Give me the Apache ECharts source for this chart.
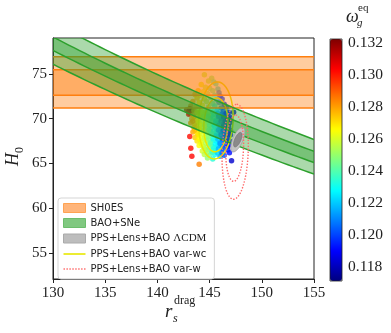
<!DOCTYPE html>
<html>
<head>
<meta charset="utf-8">
<script src="https://cdn.jsdelivr.net/npm/echarts@6/dist/echarts.min.js"></script>
<style>
html, body { margin: 0; padding: 0; background: #fff; }
#chart { width: 391px; height: 333px; }
</style>
</head>
<body>
<div id="chart"></div>
<script>
// axes
var xRange = [130, 155];
var yRange = [52.1, 79];
var yTicks = [55, 60, 65, 70, 75];
var cbRange = [0.11715, 0.13225];
var cbTicks = [0.118, 0.120, 0.122, 0.124, 0.126, 0.128, 0.130, 0.132];

// SH0ES H0 bands [low, high]: 2 sigma, 1 sigma
var shoesBands = [[71.2, 76.9], [72.6, 75.45]];
// BAO+SNe bands on H0 * rs [low, high]: 2 sigma, 1 sigma
var baoBands = [[9890, 10490], [10090, 10285]];

// contours: [rs, H0 centre, half axis 1 (rs, H0), half axis 2 (rs, H0)]
var lcdmContours = [[147.7, 67.65, 0.5, 1.35, 0.45, -0.2], [147.7, 67.65, 0.3, 0.8, 0.27, -0.12]];
var varwcContours = [[145.6, 69.8, 0.15, 4.3, 1.65, 0], [145.6, 69.3, 0.1, 3.0, 1.15, 0]];
var varwContours = [[147.45, 66.3, 0.15, 5.3, 1.25, 0], [147.4, 66.7, 0.1, 3.7, 0.85, 0]];

// chain samples: [rs, H0, omega]
var samples = [
  [144.5,74.9,0.1256],[145.2,74.5,0.1248],[144.9,74.2,0.1254],[145.4,74.1,0.124],[144.2,73.8,0.1264],[145.6,73.9,0.1232],
  [144.6,73.5,0.1258],[145.0,73.4,0.1248],[145.8,73.3,0.1224],[143.9,73.1,0.1272],[144.4,73.0,0.1262],[145.3,73.1,0.1242],[145.9,72.9,0.1208],
  [143.6,72.7,0.1276],[144.1,72.6,0.1266],[144.8,72.8,0.1252],[145.5,72.6,0.1232],[146.0,72.5,0.12],
  [143.8,72.3,0.1272],[144.5,72.2,0.126],[145.1,72.4,0.1246],[145.7,72.1,0.122],[146.2,72.2,0.1198],
  [143.4,71.9,0.128],[144.0,71.8,0.1268],[144.7,71.9,0.1254],[145.3,71.7,0.1238],[145.9,71.8,0.1212],[146.4,71.6,0.1194],
  [143.2,71.4,0.1286],[143.7,71.3,0.1274],[144.3,71.5,0.1262],[144.9,71.3,0.1248],[145.5,71.4,0.123],[146.1,71.2,0.1208],[146.6,71.3,0.1192],
  [142.8,71.0,0.1312],[143.0,70.8,0.1308],[143.1,71.1,0.1315],[143.3,70.9,0.132],[143.1,70.6,0.131],[143.5,70.9,0.128],[144.1,71.0,0.1266],[144.6,70.8,0.1256],
  [145.2,71.0,0.124],[145.7,70.9,0.1222],[146.3,70.8,0.1202],[146.8,70.7,0.119],[147.3,70.7,0.118],
  [143.0,70.5,0.1305],[143.4,70.4,0.1282],[143.9,70.6,0.127],[144.4,70.5,0.126],[144.9,70.4,0.1248],[145.4,70.5,0.1234],[145.9,70.3,0.1216],[146.4,70.4,0.12],[146.9,70.2,0.1188],
  [143.3,70.0,0.1282],[143.7,69.9,0.1274],[144.2,70.1,0.1264],[144.6,69.9,0.1254],[145.1,70.0,0.1242],[145.6,69.8,0.1226],[146.1,70.0,0.121],[146.6,69.8,0.1198],[147.0,69.9,0.1188],
  [143.2,69.5,0.1282],[143.6,69.4,0.1274],[144.0,69.6,0.1266],[144.5,69.4,0.1256],[144.9,69.5,0.1246],[145.4,69.3,0.1232],[145.8,69.5,0.1218],[146.3,69.4,0.1206],[146.8,69.3,0.1193],
  [143.5,69.0,0.1278],[143.9,68.9,0.127],[144.3,69.1,0.1262],[144.8,68.9,0.125],[145.2,69.0,0.1238],[145.7,68.8,0.1222],[146.1,69.0,0.121],[146.6,68.9,0.1198],[147.0,68.7,0.119],
  [143.4,68.5,0.128],[143.8,68.4,0.127],[144.2,68.6,0.1264],[144.7,68.4,0.1252],[145.1,68.5,0.124],[145.5,68.3,0.123],[146.0,68.5,0.1214],[146.4,68.3,0.1202],[146.9,68.4,0.1191],
  [143.1,68.0,0.1302],[143.6,67.9,0.1274],[144.0,68.1,0.1266],[144.5,67.9,0.1256],[144.9,68.0,0.1246],[145.3,67.8,0.1234],[145.8,68.0,0.1218],[146.2,67.8,0.1206],[146.7,67.9,0.1196],
  [143.8,67.5,0.127],[144.2,67.4,0.1262],[144.7,67.6,0.1252],[145.1,67.4,0.1241],[145.6,67.5,0.1226],[146.0,67.3,0.1214],[146.5,67.4,0.1201],[146.9,67.5,0.1191],
  [144.0,67.0,0.1266],[144.4,66.9,0.1258],[144.9,67.1,0.1248],[145.3,66.9,0.1236],[145.8,67.0,0.1222],[146.2,66.8,0.1208],[146.7,66.9,0.1198],
  [143.2,66.7,0.1302],[144.3,66.4,0.126],[144.7,66.5,0.1252],[145.2,66.4,0.1239],[145.6,66.5,0.1226],[146.1,66.3,0.121],[146.9,66.2,0.1192],
  [144.5,66.0,0.1256],[145.0,65.9,0.1244],[145.5,66.0,0.123],[146.0,65.8,0.1214],[146.4,65.9,0.1202],
  [143.3,65.8,0.1303],[144.8,65.6,0.125],[145.3,65.5,0.1234],[147.1,65.3,0.1183],[144.0,64.9,0.1285],
  [143.8,70.7,0.1272],[144.3,70.7,0.1262],[144.8,70.65,0.125],[145.3,70.7,0.1236],[145.8,70.6,0.1218],[146.2,70.55,0.1206],[146.6,70.6,0.1196],
  [143.5,70.2,0.1278],[144.0,70.25,0.1268],[144.4,70.2,0.1258],[144.9,70.2,0.1246],[145.35,70.15,0.1233],[145.85,70.2,0.1215],[146.35,70.1,0.1201],[146.8,70.05,0.1191],
  [143.4,69.7,0.1281],[143.9,69.75,0.127],[144.3,69.7,0.1261],[144.75,69.75,0.125],[145.2,69.7,0.1238],[145.6,69.65,0.1225],[146.1,69.7,0.121],[146.5,69.65,0.1198],[147.0,69.6,0.1189],
  [143.7,69.2,0.1274],[144.1,69.25,0.1265],[144.55,69.2,0.1255],[145.0,69.25,0.1243],[145.45,69.2,0.123],[145.9,69.25,0.1215],[146.35,69.2,0.1202],[146.8,69.15,0.1193],
  [143.6,68.7,0.1276],[144.05,68.75,0.1266],[144.5,68.7,0.1256],[144.95,68.75,0.1244],[145.4,68.65,0.1232],[145.85,68.7,0.1217],[146.3,68.65,0.1204],[146.75,68.7,0.1195],
  [143.9,68.2,0.127],[144.35,68.25,0.126],[144.8,68.2,0.125],[145.2,68.25,0.1238],[145.65,68.15,0.1224],[146.1,68.2,0.121],[146.55,68.1,0.1198],[147.0,68.2,0.119],
  [144.0,67.7,0.1267],[144.45,67.75,0.1258],[144.9,67.7,0.1247],[145.35,67.65,0.1233],[145.8,67.7,0.1219],[146.25,67.6,0.1206],[146.7,67.7,0.1196],
  [144.2,67.2,0.1263],[144.65,67.25,0.1254],[145.1,67.2,0.1241],[145.55,67.15,0.1228],[146.0,67.2,0.1213],[146.45,67.1,0.1202],[146.9,67.05,0.1191],
  [144.5,66.7,0.1257],[144.95,66.75,0.1247],[145.4,66.7,0.1233],[145.85,66.65,0.1218],[146.3,66.6,0.1204],[146.75,66.5,0.1195],
  [144.75,66.2,0.1252],[145.25,66.25,0.1238],[145.75,66.2,0.1222],[146.2,66.1,0.1208]
];

var jet = ['#00007f', '#0000ff', '#0080ff', '#00ffff', '#80ff80', '#ffff00', '#ff8000', '#ff0000', '#7f0000'];

function ellipsePoints(api) {
  var pts = [];
  for (var k = 0; k < 90; k++) {
    var t = k / 90 * 2 * Math.PI;
    pts.push(api.coord([
      api.value(0) + api.value(2) * Math.cos(t) + api.value(4) * Math.sin(t),
      api.value(1) + api.value(3) * Math.cos(t) + api.value(5) * Math.sin(t)
    ]));
  }
  return pts;
}

function shoesItem(params, api) {
  var lo = api.value(0), hi = api.value(1);
  var a = api.coord([xRange[0], lo]), b = api.coord([xRange[1], lo]);
  var c = api.coord([xRange[1], hi]), d = api.coord([xRange[0], hi]);
  return {
    type: 'group',
    children: [
      { type: 'polygon', shape: { points: [a, b, c, d] }, style: { fill: 'rgba(255,127,14,0.4)' } },
      { type: 'line', shape: { x1: a[0], y1: a[1], x2: b[0], y2: b[1] }, style: { stroke: '#ff7f0e', lineWidth: 1.5 } },
      { type: 'line', shape: { x1: d[0], y1: d[1], x2: c[0], y2: c[1] }, style: { stroke: '#ff7f0e', lineWidth: 1.5 } }
    ]
  };
}

function baoItem(params, api) {
  var lo = api.value(0), hi = api.value(1);
  var upper = [], lower = [];
  for (var r = xRange[0]; r <= xRange[1] + 1e-9; r += 0.5) {
    upper.push(api.coord([r, hi / r]));
    lower.push(api.coord([r, lo / r]));
  }
  return {
    type: 'group',
    children: [
      { type: 'polygon', shape: { points: upper.concat(lower.slice().reverse()) }, style: { fill: 'rgba(44,160,44,0.4)' } },
      { type: 'polyline', shape: { points: upper }, style: { stroke: '#2ca02c', lineWidth: 1.5, fill: null } },
      { type: 'polyline', shape: { points: lower }, style: { stroke: '#2ca02c', lineWidth: 1.5, fill: null } }
    ]
  };
}

var chart = echarts.init(document.getElementById('chart'));
var serif = 'Liberation Serif';

chart.setOption({
  animation: false,
  backgroundColor: '#fff',
  grid: [
    { left: 53, top: 38, width: 261, height: 241, show: true, borderColor: '#222', borderWidth: 1, backgroundColor: 'transparent' },
    { left: 330, top: 39, width: 12, height: 242, show: true, borderColor: '#222', borderWidth: 0.8, backgroundColor: 'transparent', z: 10 }
  ],
  xAxis: [
    {
      gridIndex: 0, type: 'value', min: xRange[0], max: xRange[1], interval: 5,
      axisLine: { onZero: false, lineStyle: { color: '#222', width: 1 } },
      axisTick: { length: 4, lineStyle: { color: '#222' } },
      axisLabel: { fontFamily: serif, fontSize: 15, color: '#222', margin: 7 },
      splitLine: { show: false }
    },
    { gridIndex: 1, type: 'value', min: 0, max: 1, show: false }
  ],
  yAxis: [
    {
      gridIndex: 0, type: 'value', min: yRange[0], max: yRange[1],
      axisLine: { onZero: false, lineStyle: { color: '#222', width: 1 } },
      axisTick: { length: 4, lineStyle: { color: '#222' }, customValues: yTicks },
      axisLabel: { fontFamily: serif, fontSize: 15, color: '#222', margin: 6, customValues: yTicks },
      splitLine: { show: false }
    },
    {
      gridIndex: 1, type: 'value', position: 'right', min: cbRange[0], max: cbRange[1],
      axisLine: { show: false },
      axisTick: { length: 4, lineStyle: { color: '#222' }, customValues: cbTicks },
      axisLabel: {
        fontFamily: serif, fontSize: 15.5, color: '#222', margin: 6, customValues: cbTicks,
        formatter: function (v) { return v.toFixed(3); }
      },
      splitLine: { show: false }
    }
  ],
  visualMap: {
    type: 'continuous', seriesIndex: 0, dimension: 2,
    min: cbRange[0], max: cbRange[1],
    orient: 'vertical', left: 330, top: 39, itemWidth: 12, itemHeight: 242,
    padding: 0, calculable: false, hoverLink: false, text: null, showLabel: false,
    inRange: { color: jet }
  },
  legend: {
    left: 58, top: 198, orient: 'vertical', itemWidth: 22, itemHeight: 9, itemGap: 5,
    selectedMode: false,
    backgroundColor: 'rgba(255,255,255,0.85)', borderColor: '#d5d5d5', borderWidth: 1, borderRadius: 3,
    padding: [5, 8, 5, 5],
    textStyle: {
      fontFamily: 'DejaVu Sans', fontSize: 10, color: '#222', lineHeight: 10,
      rich: { m: { fontFamily: serif, fontSize: 11, color: '#222' } }
    },
    formatter: function (n) { return n.replace('ΛCDM', '{m|ΛCDM}'); },
    data: [
      { name: 'SH0ES', icon: 'rect', itemStyle: { color: '#ffb57a', borderColor: '#ffa352', borderWidth: 1 } },
      { name: 'BAO+SNe', icon: 'rect', itemStyle: { color: '#80c880', borderColor: '#6cbd6c', borderWidth: 1 } },
      { name: 'PPS+Lens+BAO ΛCDM', icon: 'rect', itemStyle: { color: '#bdbdbd', borderColor: '#aaaaaa', borderWidth: 1 } },
      { name: 'PPS+Lens+BAO var-wc', icon: 'path://M0,0H22V1.6H0Z', itemStyle: { color: '#e8e800' } },
      { name: 'PPS+Lens+BAO var-w', icon: 'path://M0,0h1.4v1.4h-1.4zM2.8,0h1.4v1.4h-1.4zM5.6,0h1.4v1.4h-1.4zM8.4,0h1.4v1.4h-1.4zM11.2,0h1.4v1.4h-1.4zM14,0h1.4v1.4h-1.4zM16.8,0h1.4v1.4h-1.4zM19.6,0h1.4v1.4h-1.4z', itemStyle: { color: '#ff7070' } }
    ]
  },
  series: [
    {
      name: 'samples', type: 'scatter', xAxisIndex: 0, yAxisIndex: 0,
      data: samples, symbolSize: 5.5, encode: { x: 0, y: 1 }, z: 1
    },
    {
      name: 'SH0ES', type: 'custom', xAxisIndex: 0, yAxisIndex: 0, clip: true, z: 3,
      renderItem: shoesItem, data: shoesBands, encode: { x: -1, y: -1 }, itemStyle: { color: '#ffb57a' }
    },
    {
      name: 'BAO+SNe', type: 'custom', xAxisIndex: 0, yAxisIndex: 0, clip: true, z: 3,
      renderItem: baoItem, data: baoBands, encode: { x: -1, y: -1 }, itemStyle: { color: '#80c880' }
    },
    {
      name: 'PPS+Lens+BAO ΛCDM', type: 'custom', xAxisIndex: 0, yAxisIndex: 0, clip: true, z: 4,
      data: lcdmContours, encode: { x: 0, y: 1 }, itemStyle: { color: '#bdbdbd' },
      renderItem: function (params, api) {
        return {
          type: 'polygon', shape: { points: ellipsePoints(api) },
          style: { fill: params.dataIndex === 0 ? '#c4c4c4' : '#8a8a8a', stroke: params.dataIndex === 0 ? '#a0a0a0' : '#777', lineWidth: 0.8 }
        };
      }
    },
    {
      name: 'PPS+Lens+BAO var-wc', type: 'custom', xAxisIndex: 0, yAxisIndex: 0, clip: true, z: 2,
      data: varwcContours, encode: { x: 0, y: 1 }, itemStyle: { color: '#e8e800' },
      renderItem: function (params, api) {
        return { type: 'polygon', shape: { points: ellipsePoints(api) }, style: { fill: null, stroke: '#e8e800', lineWidth: 1.5 } };
      }
    },
    {
      name: 'PPS+Lens+BAO var-w', type: 'custom', xAxisIndex: 0, yAxisIndex: 0, clip: true, z: 5,
      data: varwContours, encode: { x: 0, y: 1 }, itemStyle: { color: '#ff7070' },
      renderItem: function (params, api) {
        return { type: 'polygon', shape: { points: ellipsePoints(api) }, style: { fill: null, stroke: '#ff6a6a', lineWidth: 1.4, lineDash: [1.4, 1.6] } };
      }
    }
  ],
  graphic: [
    { type: 'text', left: 165, top: 302, style: { text: 'r', font: 'italic 19px ' + serif, fill: '#222' } },
    { type: 'text', left: 173, top: 313, style: { text: 's', font: 'italic 12px ' + serif, fill: '#222' } },
    { type: 'text', left: 174, top: 295, style: { text: 'drag', font: '12px ' + serif, fill: '#222' } },
    {
      type: 'group', x: 22, y: 166, rotation: Math.PI / 2,
      children: [
        { type: 'text', x: 0, y: 0, style: { text: 'H', font: 'italic 18px ' + serif, fill: '#222', textVerticalAlign: 'bottom' } },
        { type: 'text', x: 13, y: 4, style: { text: '0', font: '12px ' + serif, fill: '#222', textVerticalAlign: 'bottom' } }
      ]
    },
    { type: 'text', left: 346, top: 8, style: { text: 'ω', font: 'italic 18px ' + serif, fill: '#222' } },
    { type: 'text', left: 357, top: 18, style: { text: 'g', font: 'italic 11px ' + serif, fill: '#222' } },
    { type: 'text', left: 358, top: 3, style: { text: 'eq', font: '11px ' + serif, fill: '#222' } }
  ]
});
</script>
</body>
</html>
